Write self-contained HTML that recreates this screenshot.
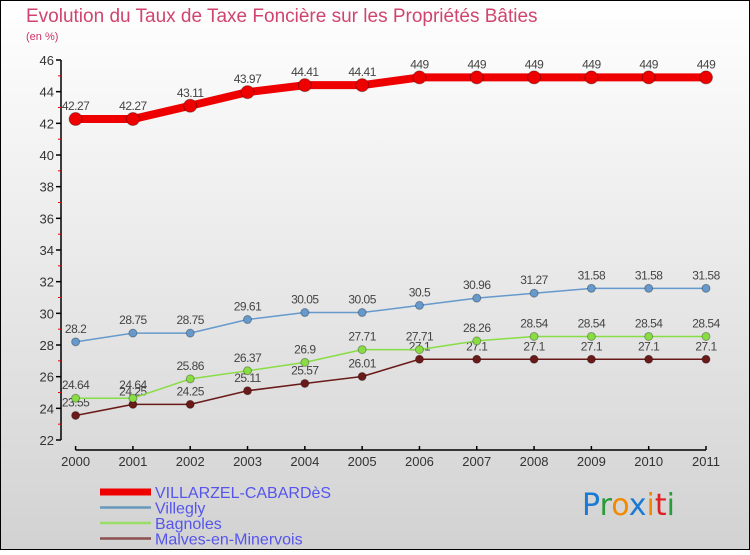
<!DOCTYPE html>
<html><head><meta charset="utf-8"><style>
html,body{margin:0;padding:0}
body{width:750px;height:550px;overflow:hidden;font-family:"Liberation Sans",sans-serif}
</style></head><body>
<svg id="chart" width="750" height="550" xmlns="http://www.w3.org/2000/svg">
<defs><linearGradient id="bg" x1="0" y1="0" x2="0" y2="1"><stop offset="0" stop-color="#ffffff"/><stop offset="1" stop-color="#d2d2d2"/></linearGradient></defs>
<rect x="0.5" y="0.5" width="749" height="549" fill="url(#bg)" stroke="#000" stroke-width="1"/>
<text x="26" y="22" font-size="19" fill="#d0446f">Evolution du Taux de Taxe Foncière sur les Propriétés Bâties</text>
<text x="26" y="40" font-size="11" fill="#cc3366">(en %)</text>
<g id="axes"></g><g id="series"></g><g id="legend"></g>
<g font-size="30" font-family="'DejaVu Sans',sans-serif">
<text x="582" y="515"><tspan fill="#1a7ad4">P</tspan><tspan fill="#2a9a3a">r</tspan><tspan fill="#f08a00">o</tspan><tspan fill="#1a7ad4">x</tspan><tspan fill="#f08a00">i</tspan><tspan fill="#e02020">t</tspan><tspan fill="#2a9a3a">i</tspan></text>
</g>
</svg>
<script>
const years=[2000,2001,2002,2003,2004,2005,2006,2007,2008,2009,2010,2011];
const yTicks=[22,24,26,28,30,32,34,36,38,40,42,44,46];
const villarzel=[42.27,42.27,43.11,43.97,44.41,44.41,44.9,44.9,44.9,44.9,44.9,44.9];
const villarzelLabels=["42.27","42.27","43.11","43.97","44.41","44.41","449","449","449","449","449","449"];
const villegly=[28.2,28.75,28.75,29.61,30.05,30.05,30.5,30.96,31.27,31.58,31.58,31.58];
const bagnoles=[24.64,24.64,25.86,26.37,26.9,27.71,27.71,28.26,28.54,28.54,28.54,28.54];
const malves=[23.55,24.25,24.25,25.11,25.57,26.01,27.1,27.1,27.1,27.1,27.1,27.1];
const NS="http://www.w3.org/2000/svg";
const x=i=>75.6+i*(706-75.6)/(years.length-1);
const y=v=>440-(v-22)*(380/24);
function mk(t,a,p){const e=document.createElementNS(NS,t);for(const k in a)e.setAttribute(k,a[k]);p.appendChild(e);return e;}
const ax=document.getElementById('axes');
let e=mk('line',{x1:61,y1:y(46),x2:61,y2:y(22),stroke:'#000','stroke-width':1.5},ax);


yTicks.forEach(v=>{
 mk('line',{x1:56,y1:y(v),x2:61,y2:y(v),stroke:'#000','stroke-width':1.5},ax);
 if(v<46) mk('line',{x1:58,y1:y(v+1),x2:61,y2:y(v+1),stroke:'#e00','stroke-width':1},ax);
 const t=mk('text',{x:54,y:y(v)+5,'font-size':13,'text-anchor':'end',fill:'#333'},ax);t.textContent=v;
 
 
});
e=mk('line',{x1:x(0),y1:450,x2:x(11),y2:450,stroke:'#000','stroke-width':1.5},ax);


years.forEach((yr,i)=>{
 mk('line',{x1:x(i),y1:446,x2:x(i),y2:450,stroke:'#000','stroke-width':1.5},ax);
 const t=mk('text',{x:x(i),y:466,'font-size':13,'text-anchor':'middle',fill:'#333'},ax);t.textContent=yr;
 
 
});
const sg=document.getElementById('series');
function series(name,vals,labels,color,w,r){
 const g=mk('g',{},sg);
 
 
 mk('polyline',{points:vals.map((v,i)=>x(i)+','+y(v)).join(' '),fill:'none',stroke:color,'stroke-width':w,'stroke-linejoin':'round'},g);
 vals.forEach((v,i)=>{
  const c=mk('circle',{cx:x(i),cy:y(v),r:r,fill:color,stroke:'rgba(0,0,0,0.3)','stroke-width':1},g);
  
  
  const t=mk('text',{x:x(i),y:y(v)-9,'font-size':12,'text-anchor':'middle',fill:'#444','letter-spacing':'-0.5'},g);
  t.textContent=labels?labels[i]:String(v);
  
  
 });
}
series('series-malves',malves,null,'#6b1a1a',1.5,4);
series('series-bagnoles',bagnoles,null,'#88dd44',1.5,4);
series('series-villegly',villegly,null,'#6699cc',1.5,4);
series('series-villarzel',villarzel,villarzelLabels,'#ee0000',8,6.5);
const lg=document.getElementById('legend');
[['VILLARZEL-CABARDèS','#ee0000',7],['Villegly','#6699bb',2.5],['Bagnoles','#99dd66',2.5],['Malves-en-Minervois','#8b5050',2.5]].forEach((d,i)=>{
 const yy=492+i*15.5;
 const g=mk('g',{},lg);
 
 
 mk('line',{x1:100,y1:yy,x2:151,y2:yy,stroke:d[1],'stroke-width':d[2]},g);
 const t=mk('text',{x:155,y:yy+6,'font-size':16,fill:'#5555ee'},g);t.textContent=d[0];
});
</script>
</body></html>
